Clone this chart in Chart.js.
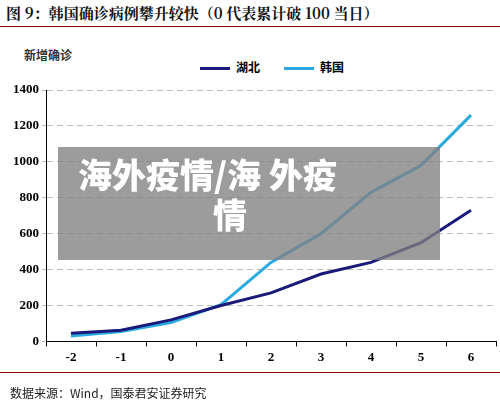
<!DOCTYPE html><html><head><meta charset="utf-8">
<script src="https://cdn.jsdelivr.net/npm/chart.js@4/dist/chart.umd.min.js"></script>
<style>
body{margin:0;width:500px;height:408px;background:#fff;position:relative;overflow:hidden;font-family:"Noto Sans CJK SC",serif}
#t{position:absolute;left:6px;top:2px;font-size:15px;font-weight:bold;color:#111;white-space:nowrap;font-family:"Noto Serif CJK SC","Noto Sans CJK SC"}
.hl{position:absolute;left:0;width:500px;height:1px;background:#8b0000}
#yl{position:absolute;left:24px;top:46px;font-size:12px;font-weight:bold;color:#333}
#lg{position:absolute;top:58px;left:200px;font-size:12px;font-weight:bold;white-space:nowrap}
#lg i{display:inline-block;width:30px;height:3px;vertical-align:middle;margin:0 6px 0 0}
#src{position:absolute;left:10px;top:384px;font-size:12px;color:#222}
#ov{position:absolute;left:58px;top:147px;width:382px;height:113px;background:rgba(128,128,128,0.78);color:#fff;font-size:34px;font-weight:900;line-height:40px;padding-top:7px;box-sizing:border-box}
#ov div{white-space:nowrap}
canvas{position:absolute;left:0;top:0}
</style></head><body>
<div id="t">图 9：韩国确诊病例攀升较快（0 代表累计破 100 当日）</div>
<div class="hl" style="top:26px"></div>
<div class="hl" style="top:372px"></div>
<div id="yl">新增确诊</div>
<div id="lg"><i style="background:#1a1a7a"></i>湖北<span style="display:inline-block;width:24px"></span><i style="background:#29abe2"></i>韩国</div>
<div style="position:absolute;left:0;top:0;width:500px;height:408px"><canvas id="c" width="500" height="408"></canvas></div>
<div id="ov"><div style="padding-left:20px">海外疫情/海 外疫</div><div style="padding-left:155px">情</div></div>
<div id="src">数据来源：Wind，国泰君安证券研究</div>
<script>
const categories=["-2","-1","0","1","2","3","4","5","6"];
const hubei=[45,62,120,200,270,375,440,550,730];
const korea=[30,55,105,205,440,600,830,980,1260];
const yTicks=[0,200,400,600,800,1000,1200,1400];
new Chart(document.getElementById('c'),{type:'line',
data:{labels:categories,datasets:[
{label:'湖北',data:hubei,borderColor:'#1a1a7a',borderWidth:3,pointRadius:0,tension:0},
{label:'韩国',data:korea,borderColor:'#29abe2',borderWidth:3,pointRadius:0,tension:0}]},
options:{responsive:false,animation:false,layout:{padding:{top:90,right:4,bottom:40,left:10}},
plugins:{legend:{display:false},tooltip:{enabled:false}},
scales:{x:{offset:true,grid:{display:true,drawOnChartArea:false,offset:true,color:'#000',tickLength:5},border:{color:'#000'},ticks:{color:'#000',font:{family:'Liberation Serif',size:13,weight:'bold'}}},
y:{min:0,max:1400,afterBuildTicks:a=>{a.ticks=yTicks.map(v=>({value:v}))},grid:{color:'#bbb',tickLength:4,lineWidth:1},border:{color:'#000',dash:[6,4]},
ticks:{color:'#000',callback:v=>String(v),font:{family:'Liberation Serif',size:13,weight:'bold'}}}}}});
</script></body></html>
